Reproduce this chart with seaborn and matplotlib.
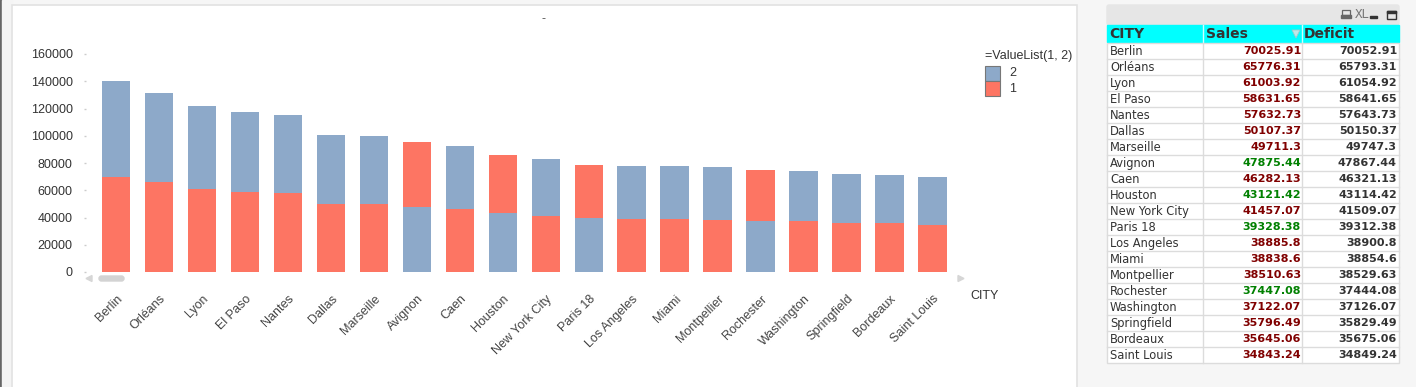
import numpy as np
import pandas as pd
import matplotlib
matplotlib.use("Agg")
import matplotlib.pyplot as plt
from matplotlib.patches import Rectangle, FancyBboxPatch, Polygon
import seaborn as sns

# data
cities = ["Berlin", "Orléans", "Lyon", "El Paso", "Nantes", "Dallas", "Marseille",
          "Avignon", "Caen", "Houston", "New York City", "Paris 18", "Los Angeles",
          "Miami", "Montpellier", "Rochester", "Washington", "Springfield",
          "Bordeaux", "Saint Louis"]
sales = [70025.91, 65776.31, 61003.92, 58631.65, 57632.73, 50107.37, 49711.3,
         47875.44, 46282.13, 43121.42, 41457.07, 39328.38, 38885.8, 38838.6,
         38510.63, 37447.08, 37122.07, 35796.49, 35645.06, 34843.24]
deficit = [70052.91, 65793.31, 61054.92, 58641.65, 57643.73, 50150.37, 49747.3,
           47867.44, 46321.13, 43114.42, 41509.07, 39312.38, 38900.8, 38854.6,
           38529.63, 37444.08, 37126.07, 35829.49, 35675.06, 34849.24]
sales_txt = ["70025.91", "65776.31", "61003.92", "58631.65", "57632.73", "50107.37",
             "49711.3", "47875.44", "46282.13", "43121.42", "41457.07", "39328.38",
             "38885.8", "38838.6", "38510.63", "37447.08", "37122.07", "35796.49",
             "35645.06", "34843.24"]
deficit_txt = ["70052.91", "65793.31", "61054.92", "58641.65", "57643.73", "50150.37",
               "49747.3", "47867.44", "46321.13", "43114.42", "41509.07", "39312.38",
               "38900.8", "38854.6", "38529.63", "37444.08", "37126.07", "35829.49",
               "35675.06", "34849.24"]
yticks = [0, 20000, 40000, 60000, 80000, 100000, 120000, 140000, 160000]

RED = "#FD7563"
BLUE = "#8DA9C9"

W, H = 1416, 387
fig = plt.figure(figsize=(W / 100, H / 100), dpi=100, facecolor="#f6f6f6")
plt.rcParams['font.family'] = ['Liberation Sans', 'DejaVu Sans']

# background / frame drawn in pixel coordinates
bg = fig.add_axes([0, 0, 1, 1], zorder=0)
bg.set_xlim(0, W)
bg.set_ylim(H, 0)
bg.axis("off")
bg.add_patch(Rectangle((0, 0), 2, H, color="#666666"))
bg.add_patch(Rectangle((2, 0), 10, H, color="#f4f4f4"))
bg.add_patch(Rectangle((12, 5), 1065, H, facecolor="white", edgecolor="#e2e2e2", lw=1.2))

# chart
ax = fig.add_axes([86 / W, (H - 272) / H, (965 - 86) / W, (272 - 54) / H], zorder=1)
ax.set_facecolor("none")

df = pd.DataFrame({"city": cities, "sales": sales, "deficit": deficit})
df["total"] = df["sales"] + df["deficit"]
df["low"] = df[["sales", "deficit"]].min(axis=1)
# the smaller series sits at the bottom of each stack
df["top"] = np.where(df["sales"] > df["deficit"], "1", "2")
df["bottom"] = np.where(df["sales"] > df["deficit"], "2", "1")
pal = {"1": RED, "2": BLUE}

sns.barplot(data=df, x="city", y="total", hue="top", palette=pal, order=cities,
            dodge=False, width=0.67, saturation=1, errorbar=None, legend=False, ax=ax)
sns.barplot(data=df, x="city", y="low", hue="bottom", palette=pal, order=cities,
            dodge=False, width=0.67, saturation=1, errorbar=None, legend=False, ax=ax)
for p in ax.patches:
    p.set_linewidth(0)

ax.set_xlim(-0.7, 19.75)
ax.set_ylim(0, 160000)
ax.set_yticks(yticks)
ax.set_yticklabels([str(v) for v in yticks])
ax.set_xlabel("")
ax.set_ylabel("")
for s in ax.spines.values():
    s.set_visible(False)
ax.tick_params(axis="y", length=1.5, width=1, color="#cccccc", pad=8,
               labelsize=9, labelcolor="#333333")
ax.tick_params(axis="x", length=0, pad=15, labelsize=9, labelcolor="#444444")
for lab in ax.get_xticklabels():
    lab.set_rotation(45)
    lab.set_ha("right")
    lab.set_va("top")
    lab.set_rotation_mode("anchor")

# scroll bar under the x axis
bg.add_patch(Polygon([(86, 278.5), (92, 275.5), (92, 281.5)], color="#d6d6d6"))
bg.add_patch(FancyBboxPatch((99, 276), 25, 5, boxstyle="round,pad=0,rounding_size=2.5",
                            color="#d3d3d3"))
bg.add_patch(Polygon([(964, 278.5), (958, 275.5), (958, 281.5)], color="#d6d6d6"))

# title dash, axis title, legend
bg.text(543, 19, "-", ha="center", va="center", fontsize=9, color="#555555")
bg.text(970, 296, "CITY", ha="left", va="center", fontsize=9, color="#333333")
bg.text(985, 56, "=ValueList(1, 2)", ha="left", va="center", fontsize=9, color="#333333")
bg.add_patch(Rectangle((984.5, 65.5), 15, 15, facecolor=BLUE, edgecolor="#777777", lw=0.8))
bg.add_patch(Rectangle((984.5, 80.5), 15, 15, facecolor=RED, edgecolor="#777777", lw=0.8))
bg.text(1009, 73, "2", ha="left", va="center", fontsize=9, color="#333333")
bg.text(1009, 89, "1", ha="left", va="center", fontsize=9, color="#333333")

# straight table on the right
tx0, tx1 = 1107, 1399
c1, c2 = 1203, 1302
bg.add_patch(FancyBboxPatch((tx0, 5), tx1 - tx0, 20, boxstyle="round,pad=0,rounding_size=2",
                            color="#e6e6e6"))
bg.add_patch(Rectangle((tx0, 25), tx1 - tx0, 17, color="#00ffff"))
bg.plot([c1, c1], [25, 42], color="#ccffff", lw=1)
bg.plot([c2, c2], [25, 42], color="#ccffff", lw=1)
hdr = dict(fontsize=10, fontweight="bold", color="#333333", va="center",
           family="DejaVu Sans")
bg.text(1109, 34, "CITY", ha="left", **hdr)
bg.text(1206, 34, "Sales", ha="left", **hdr)
bg.text(1304, 34, "Deficit", ha="left", **hdr)
bg.add_patch(Polygon([(1292, 30), (1300, 30), (1296, 38)], facecolor="#bfe6e6",
                     edgecolor="#99cccc", lw=0.6))

# caption icons
bg.add_patch(Rectangle((1342, 10), 8, 5, fill=False, edgecolor="#666666", lw=0.9))
bg.add_patch(Rectangle((1341, 15), 10, 3, color="#666666"))
bg.text(1355, 14, "XL", ha="left", va="center", fontsize=9, color="#777777",
        family="DejaVu Sans Mono")
bg.add_patch(Rectangle((1370, 16), 7, 2, color="#333333"))
bg.add_patch(Rectangle((1386.5, 10.5), 9, 8, fill=False, edgecolor="#333333", lw=1))
bg.add_patch(Rectangle((1386.5, 10.5), 9, 2, color="#333333"))

row_h = 16
top = 43
n = len(cities)
bg.add_patch(Rectangle((tx0, top), tx1 - tx0, n * row_h, facecolor="white",
                       edgecolor="#dcdcdc", lw=1))
for i in range(1, n):
    y = top + i * row_h
    bg.plot([tx0, tx1], [y, y], color="#dcdcdc", lw=1)
bg.plot([c1, c1], [top, top + n * row_h], color="#dcdcdc", lw=1)
bg.plot([c2, c2], [top, top + n * row_h], color="#dcdcdc", lw=1)

for i, city in enumerate(cities):
    yc = top + i * row_h + row_h / 2 + 0.5
    bg.text(1110, yc, city, ha="left", va="center", fontsize=8.3, color="#333333",
            family="DejaVu Sans")
    col = "#008000" if sales[i] > deficit[i] else "#800000"
    bg.text(1301, yc, sales_txt[i], ha="right", va="center", fontsize=8,
            fontweight="bold", color=col, family="DejaVu Sans")
    bg.text(1397, yc, deficit_txt[i], ha="right", va="center", fontsize=8,
            fontweight="bold", color="#333333", family="DejaVu Sans")

fig.savefig("out.png", dpi=100, facecolor=fig.get_facecolor())
